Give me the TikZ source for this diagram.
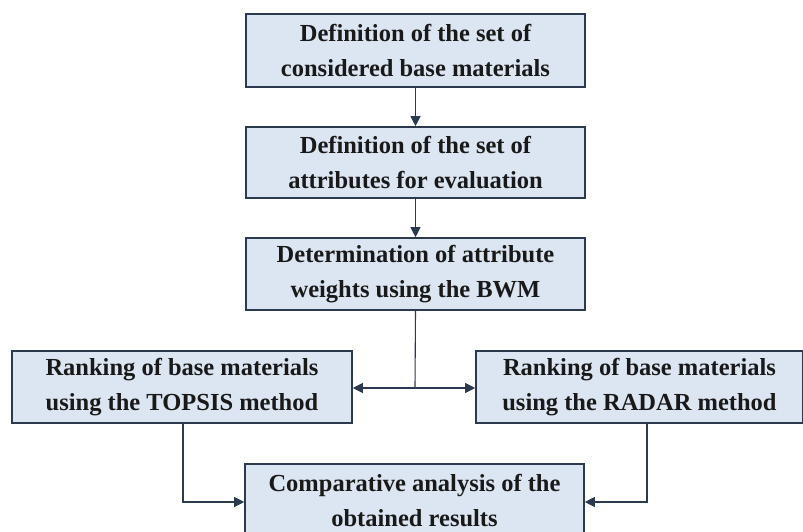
\documentclass[tikz,border=0pt]{standalone}
\usepackage{fontspec}
\setmainfont{Liberation Serif}
\usetikzlibrary{arrows.meta}
\definecolor{boxfill}{HTML}{DCE6F2}
\definecolor{boxline}{HTML}{2B3A4F}
\begin{document}
\begin{tikzpicture}[x=1pt,y=-1pt,
  flowbox/.style={draw=boxline, line width=1.6pt, fill=boxfill, inner sep=0pt, align=center,
     font=\fontsize{24.5}{35}\selectfont\bfseries, text=black!90},
  conn/.style={draw=boxline, line width=1.1pt},
  arr/.style={conn, -{Triangle[length=10pt,width=10pt]}}]
\useasboundingbox (0,0) rectangle (803,532);
\node[flowbox, minimum width=339pt, minimum height=73pt] (b1) at (415.5,50.5) {Definition of the set of\\considered base materials};
\node[flowbox, minimum width=339pt, minimum height=71pt] (b2) at (415.5,162.5) {Definition of the set of\\attributes for evaluation};
\node[flowbox, minimum width=339pt, minimum height=72pt] (b3) at (415.5,274) {Determination of attribute\\weights using the BWM};
\node[flowbox, minimum width=340pt, minimum height=72pt] (b4) at (182,387) {Ranking of base materials\\using the TOPSIS method};
\node[flowbox, minimum width=327pt, minimum height=72pt] (b5) at (639.5,387) {Ranking of base materials\\using the RADAR method};
\node[flowbox, minimum width=339pt, minimum height=74pt, anchor=north] (b6) at (414.5,463) {Comparative analysis of the\\obtained results};
\coordinate (j) at (415,388);
\draw[arr] (b1.south) -- (b2.north);
\draw[arr] (b2.south) -- (b3.north);
\draw[conn] (b3.south) -- (j);
\draw[arr] (j) -- (b4.east |- j);
\draw[arr] (j) -- (b5.west |- j);
\draw[arr] (183,423) |- (b6.west |- 0,502);
\draw[arr] (647,423) |- (b6.east |- 0,502);
\end{tikzpicture}
\end{document}
